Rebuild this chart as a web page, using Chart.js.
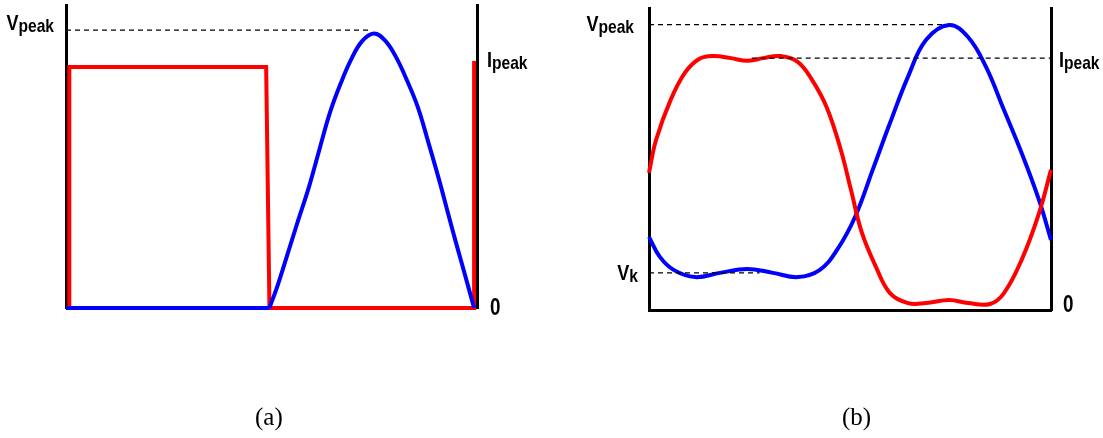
<!DOCTYPE html>
<html>
<head>
<meta charset="utf-8">
<script src="https://cdn.jsdelivr.net/npm/chart.js@4.4.1/dist/chart.umd.min.js"></script>
<style>
  body { margin: 0; background: #fff; width: 1103px; height: 438px; position: relative; overflow: hidden; }
  canvas { position: absolute; top: 0; }
  #chartA { left: 0; }
  #chartB { left: 550px; }
  .caption { position: absolute; top: 404px; line-height: 25px; font-family: "Liberation Serif", "Times New Roman", serif; font-size: 25px; color: #000; }
</style>
</head>
<body>
<canvas id="chartA" width="550" height="438"></canvas>
<canvas id="chartB" width="553" height="438"></canvas>
<div class="caption" style="left:255px">(a)</div>
<div class="caption" style="left:842px">(b)</div>
<script>
// ---- (a) kare dalga akım + yarım sinüs gerilim (x: periyodun yüzdesi, y: 0..100)
const aSquareT = [0.8, 0.8, 48.7, 49.5, 99.3, 99.3];
const aSquareI = [0, 79.5, 79.5, 0, 0, 81.5];
const aFlatT = [0, 49.5];
const aFlatV = [0, 0];
const aPulseT = [49.5, 51.5, 54.0, 56.5, 59.1, 61.7, 64.2, 66.8, 69.3, 72.0, 74.9, 77.6, 80.3, 83.0, 85.6, 88.2, 90.8, 92.9, 94.9, 97.1, 99.3];
const aPulseV = [0, 7.5, 18.2, 29, 39.9, 52.5, 64.4, 74, 81.8, 88, 90.6, 88.3, 82.8, 75, 66.3, 54.5, 42.2, 31.5, 21.5, 10.8, 0];
const aVpeak = 91.7;
const aVpeakLineEnd = 74;
const aIpeak = 81.5;

// ---- (b) yumuşatılmış dalga biçimleri (x: derece, y: 0..100)
const bCurrentT = [0, 6.3, 19.3, 32.1, 44.8, 57.3, 73.4, 87.8, 102.1, 117.8, 133.4, 146, 159, 171.8, 180.9, 190.7, 203.3, 215.8, 231.9, 248, 268.7, 285.7, 305.4, 317.9, 333.7, 349.3, 360];
const bCurrentI = [45.4, 56.3, 69.5, 78.5, 83.1, 84.1, 83.4, 82.5, 83.4, 84.1, 82.1, 76.2, 67.2, 53, 39.7, 25.5, 14.2, 5.6, 2.3, 2.3, 3.3, 2.3, 2, 5.6, 16.6, 32.1, 46.4];
const bVoltageT = [0, 9.9, 22.4, 41.2, 63.6, 87.8, 111, 133.4, 152.7, 168.4, 184.5, 200.3, 215.8, 231.9, 248, 268.7, 285.7, 301.8, 317.9, 333.7, 349.3, 360];
const bVoltageV = [24.2, 17.5, 13.2, 10.9, 12.3, 13.6, 12.3, 10.9, 13.2, 19.9, 30.8, 46.4, 61.9, 77.2, 89.4, 94.4, 90.4, 80.5, 66.2, 52, 36.4, 23.2];
const bVpeak = 94.5;
const bVpeakLineEnd = 265;
const bIpeak = 83.4;
const bIpeakLineStart = 92;
const bVk = 12.3;
const bVkLineEnd = 99;

const RED = '#ff0000';
const BLUE = '#0000ff';

function pts(xs, ys) {
    return xs.map((x, i) => ({ x: x, y: ys[i] }));
}

function curve(data, color, smooth) {
    return {
        data: data,
        borderColor: color,
        borderWidth: 4,
        pointRadius: 0,
        tension: smooth ? 0.4 : 0,
        clip: false
    };
}

function dashed(x0, x1, y) {
    return {
        data: [{ x: x0, y: y }, { x: x1, y: y }],
        borderColor: '#000',
        borderWidth: 1.4,
        borderDash: [5, 4],
        pointRadius: 0,
        clip: false
    };
}

// eksen etiketleri (V_peak, I_peak, 0 ...) - büyük harf + küçük alt yazı
const axisText = {
    id: 'axisText',
    afterDraw(chart, args, opts) {
        const ctx = chart.ctx;
        const area = chart.chartArea;
        const yScale = chart.scales.y;
        const squeeze = 0.82;
        (opts.items || []).forEach(item => {
            const base = yScale.getPixelForValue(item.value) + item.shift;
            const bigFont = 'bold ' + (item.size || 22) + 'px "Liberation Sans", Arial, sans-serif';
            const smallFont = 'bold 19px "Liberation Sans", Arial, sans-serif';
            ctx.save();
            ctx.fillStyle = '#000';
            ctx.textBaseline = 'alphabetic';
            ctx.font = bigFont;
            const w1 = ctx.measureText(item.main).width;
            ctx.font = smallFont;
            const w2 = item.sub ? ctx.measureText(item.sub).width : 0;
            const total = (w1 + w2) * squeeze;
            const x0 = item.side === 'left' ? area.left - item.gap - total : area.right + item.gap;
            ctx.translate(x0, base);
            ctx.scale(squeeze, 1);
            ctx.font = bigFont;
            ctx.fillText(item.main, 0, 0);
            if (item.sub) {
                ctx.font = smallFont;
                ctx.fillText(item.sub, w1, 2);
            }
            ctx.restore();
        });
    }
};

function axisOpts(pos, showBorder, min, max) {
    return {
        type: 'linear',
        position: pos,
        min: min,
        max: max,
        display: true,
        grid: { display: false, drawTicks: false },
        ticks: { display: false },
        border: { display: showBorder, color: '#000', width: 3 }
    };
}

new Chart(document.getElementById('chartA'), {
    type: 'line',
    data: {
        datasets: [
            dashed(0, aVpeakLineEnd, aVpeak),
            curve(pts(aFlatT, aFlatV), BLUE, false),
            curve(pts(aPulseT, aPulseV), BLUE, true),
            curve(pts(aSquareT, aSquareI), RED, false)
        ]
    },
    options: {
        responsive: false,
        animation: false,
        layout: { padding: { left: 66, right: 73, top: 5, bottom: 130 } },
        scales: {
            x: Object.assign(axisOpts('bottom', false, 0, 100), { display: false }),
            y: axisOpts('left', true, 0, 100),
            y2: axisOpts('right', true, 0, 100)
        },
        plugins: {
            legend: { display: false },
            tooltip: { enabled: false },
            axisText: {
                items: [
                    { main: 'V', sub: 'peak', value: aVpeak, shift: 0, side: 'left', gap: 12 },
                    { main: 'I', sub: 'peak', value: aIpeak, shift: 6, side: 'right', gap: 10 },
                    { main: '0', sub: '', value: 0, shift: 7, side: 'right', gap: 13, size: 23 }
                ]
            }
        }
    },
    plugins: [axisText]
});

new Chart(document.getElementById('chartB'), {
    type: 'line',
    data: {
        datasets: [
            dashed(0, bVpeakLineEnd, bVpeak),
            dashed(bIpeakLineStart, 360, bIpeak),
            dashed(0, bVkLineEnd, bVk),
            curve(pts(bCurrentT, bCurrentI), RED, true),
            curve(pts(bVoltageT, bVoltageV), BLUE, true)
        ]
    },
    options: {
        responsive: false,
        animation: false,
        layout: { padding: { left: 99, right: 52, top: 8, bottom: 128 } },
        scales: {
            x: axisOpts('bottom', true, 0, 360),
            y: axisOpts('left', true, 0, 100),
            y2: axisOpts('right', true, 0, 100)
        },
        plugins: {
            legend: { display: false },
            tooltip: { enabled: false },
            axisText: {
                items: [
                    { main: 'V', sub: 'peak', value: bVpeak, shift: 6, side: 'left', gap: 15 },
                    { main: 'V', sub: 'k', value: bVk, shift: 7, side: 'left', gap: 11 },
                    { main: 'I', sub: 'peak', value: bIpeak, shift: 9, side: 'right', gap: 8 },
                    { main: '0', sub: '', value: 0, shift: 2, side: 'right', gap: 12, size: 23 }
                ]
            }
        }
    },
    plugins: [axisText]
});
</script>
</body>
</html>
